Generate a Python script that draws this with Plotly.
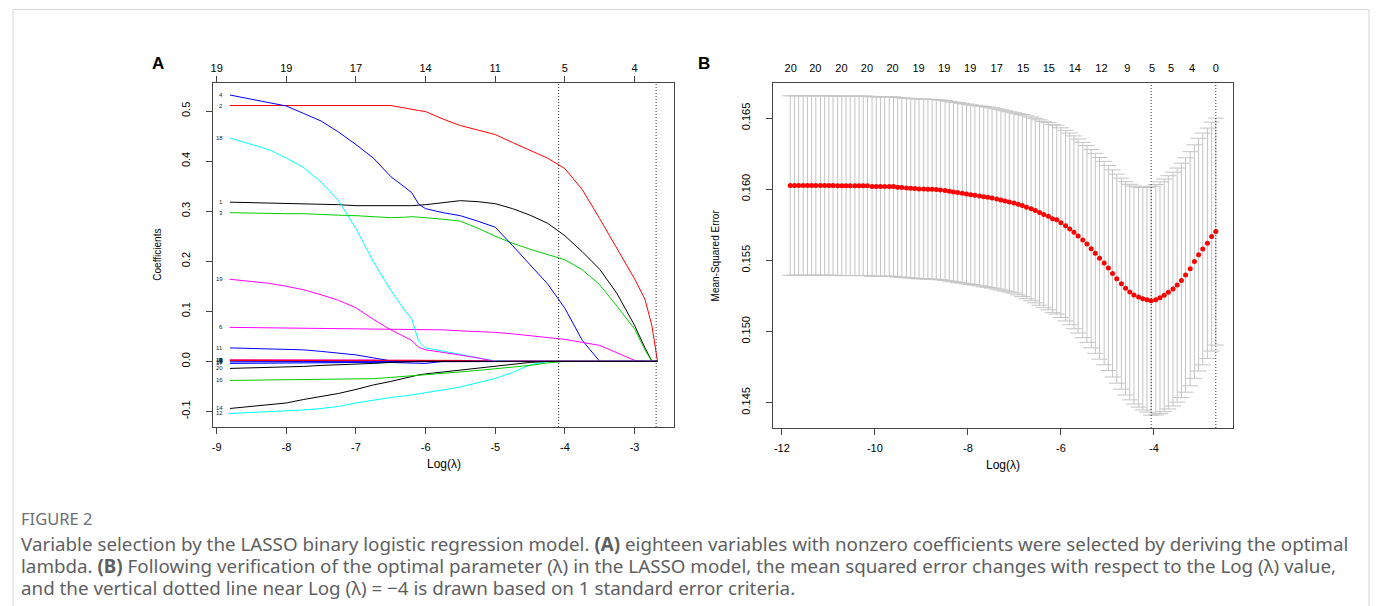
import plotly.graph_objects as go

W, H = 1376, 606

# ---------------- panel A : LASSO coefficient paths ----------------
log_lambda_a = [-8.81, -8.50, -8.25, -8.00, -7.75, -7.50, -7.25, -7.00, -6.75, -6.50,
                -6.30, -6.20, -6.10, -6.00, -5.75, -5.50, -5.25, -5.00, -4.75, -4.50,
                -4.25, -4.00, -3.75, -3.50, -3.25, -3.00, -2.85, -2.75, -2.67]

coef_1 = [0.318, 0.317, 0.317, 0.316, 0.315, 0.314, 0.313, 0.311, 0.311, 0.310,
          0.311, 0.311, 0.312, 0.313, 0.317, 0.321, 0.319, 0.315, 0.305, 0.292,
          0.276, 0.251, 0.219, 0.184, 0.135, 0.072, 0.027, 0.0, 0.0]
coef_2 = [0.511] * 10 + [0.506, 0.503, 0.501, 0.499, 0.484, 0.471, 0.462, 0.453, 0.437, 0.422,
                         0.406, 0.385, 0.343, 0.285, 0.226, 0.165, 0.124, 0.071, 0.0]
coef_3 = [0.297, 0.296, 0.295, 0.295, 0.295, 0.293, 0.292, 0.291, 0.289, 0.287,
          0.288, 0.289, 0.288, 0.287, 0.284, 0.280, 0.266, 0.250, 0.236, 0.224,
          0.213, 0.203, 0.183, 0.153, 0.110, 0.065, 0.023, 0.0, 0.0]
coef_4 = [0.532, 0.524, 0.517, 0.510, 0.495, 0.480, 0.458, 0.433, 0.406, 0.369,
          0.348, 0.337, 0.314, 0.305, 0.297, 0.291, 0.280, 0.268, 0.231, 0.194,
          0.155, 0.106, 0.042, 0.0, 0.0, 0.0, 0.0, 0.0, 0.0]
coef_5 = [0.003] * 14 + [0.002, 0.002, 0.001, 0.0] + [0.0] * 11
coef_6 = [0.068, 0.0675, 0.067, 0.067, 0.067, 0.067, 0.066, 0.066, 0.066, 0.065,
          0.065, 0.065, 0.064, 0.064, 0.063, 0.061, 0.060, 0.058, 0.055, 0.051,
          0.048, 0.044, 0.038, 0.032, 0.017, 0.002, 0.0, 0.0, 0.0]
coef_7 = [0.002] * 13 + [0.0] * 16
coef_8 = [0.0015] * 15 + [0.001, 0.0005, 0.0] + [0.0] * 11
coef_9 = [0.001, 0.001, 0.001, 0.0, 0.0, -0.001, -0.001, -0.001, -0.002, -0.002,
          -0.003, -0.003, -0.004, -0.004, 0.0] + [0.0] * 14
coef_10 = [0.0025] * 9 + [0.0] * 20
coef_11 = [0.027, 0.026, 0.025, 0.024, 0.023, 0.020, 0.017, 0.013, 0.007, 0.001] + [0.0] * 19
coef_12 = [-0.104, -0.102, -0.101, -0.100, -0.097, -0.094, -0.090, -0.083, -0.077, -0.072,
           -0.069, -0.067, -0.065, -0.063, -0.057, -0.051, -0.043, -0.034, -0.022, -0.007] + [0.0] * 9
coef_13 = [0.002] * 15 + [0.001] + [0.0] * 13
coef_14 = [-0.094, -0.090, -0.086, -0.083, -0.076, -0.070, -0.064, -0.056, -0.047, -0.040,
           -0.033, -0.030, -0.027, -0.025, -0.021, -0.017, -0.013, -0.009, -0.005, -0.002] + [0.0] * 9
coef_15 = [-0.001] * 10 + [-0.0005] + [0.0] * 18
coef_16 = [-0.038, -0.0376, -0.0373, -0.0369, -0.0366, -0.0362, -0.0358, -0.0355, -0.0345, -0.032,
           -0.030, -0.029, -0.028, -0.027, -0.024, -0.021, -0.018, -0.015, -0.012, -0.008,
           -0.003] + [0.0] * 8
coef_17 = [-0.004, -0.004, -0.004, -0.0035, -0.003, -0.003, -0.0025, -0.002, -0.001, 0.0] + [0.0] * 19
coef_18 = [0.446, 0.433, 0.423, 0.406, 0.387, 0.358, 0.321, 0.265, 0.199, 0.142,
           0.102, 0.085, 0.040, 0.027, 0.021, 0.014, 0.007, 0.001] + [0.0] * 11
coef_19 = [0.164, 0.160, 0.156, 0.150, 0.143, 0.133, 0.122, 0.107, 0.084, 0.063,
           0.050, 0.042, 0.028, 0.023, 0.018, 0.013, 0.007, 0.0] + [0.0] * 11
coef_20 = [-0.014, -0.013, -0.012, -0.011, -0.010, -0.008, -0.007, -0.006, -0.004, -0.002,
           -0.0005] + [0.0] * 18

coef_paths = [coef_1, coef_2, coef_3, coef_4, coef_5, coef_6, coef_7, coef_8, coef_9, coef_10,
              coef_11, coef_12, coef_13, coef_14, coef_15, coef_16, coef_17, coef_18, coef_19, coef_20]
var_colors = ["#000000", "#FF0000", "#00CD00", "#0000FF", "#FF0000", "#FF00FF", "#FF00FF",
              "#FF0000", "#0000FF", "#FF00FF", "#0000FF", "#00FFFF", "#FF0000", "#000000",
              "#0000FF", "#00CD00", "#0000FF", "#00FFFF", "#FF00FF", "#000000"]

a_xticks = [-9, -8, -7, -6, -5, -4, -3]
a_xticktext = ["-9", "-8", "-7", "-6", "-5", "-4", "-3"]
a_df = ["19", "19", "17", "14", "11", "5", "4"]
a_yticks = [-0.1, 0.0, 0.1, 0.2, 0.3, 0.4, 0.5]
a_yticktext = ["-0.1", "0.0", "0.1", "0.2", "0.3", "0.4", "0.5"]
a_vlines = [-4.09, -2.69]

# ---------------- panel B : cross-validated MSE ----------------
log_lambda_b = [-11.82, -11.73, -11.64, -11.54, -11.45, -11.36, -11.27, -11.17, -11.08, -10.99,
                -10.90, -10.80, -10.71, -10.62, -10.53, -10.43, -10.34, -10.25, -10.16, -10.06,
                -9.97, -9.88, -9.79, -9.69, -9.60, -9.51, -9.42, -9.32, -9.23, -9.14,
                -9.05, -8.95, -8.86, -8.77, -8.68, -8.59, -8.49, -8.40, -8.31, -8.22,
                -8.12, -8.03, -7.94, -7.85, -7.75, -7.66, -7.57, -7.48, -7.38, -7.29,
                -7.20, -7.11, -7.01, -6.92, -6.83, -6.74, -6.64, -6.55, -6.46, -6.37,
                -6.27, -6.18, -6.09, -6.00, -5.90, -5.81, -5.72, -5.63, -5.53, -5.44,
                -5.35, -5.26, -5.17, -5.07, -4.98, -4.89, -4.80, -4.70, -4.61, -4.52,
                -4.43, -4.33, -4.24, -4.15, -4.06, -3.96, -3.87, -3.78, -3.69, -3.59,
                -3.50, -3.41, -3.32, -3.22, -3.13, -3.04, -2.95, -2.85, -2.76, -2.67]
mse = [0.16026, 0.16026, 0.16026, 0.16026, 0.16026, 0.16026, 0.16026, 0.16026, 0.16026, 0.16026,
       0.16026, 0.16024, 0.16024, 0.16024, 0.16024, 0.16024, 0.16024, 0.16024, 0.16024, 0.16019,
       0.16019, 0.16019, 0.16019, 0.16019, 0.16019, 0.16014, 0.16012, 0.16009, 0.16007, 0.16005,
       0.16002, 0.16002, 0.16000, 0.16000, 0.15998, 0.15995, 0.15991, 0.15986, 0.15981, 0.15977,
       0.15972, 0.15967, 0.15962, 0.15958, 0.15953, 0.15948, 0.15944, 0.15939, 0.15932, 0.15925,
       0.15918, 0.15911, 0.15904, 0.15894, 0.15885, 0.15873, 0.15862, 0.15850, 0.15836, 0.15822,
       0.15810, 0.15793, 0.15786, 0.15765, 0.15744, 0.15721, 0.15697, 0.15671, 0.15643, 0.15615,
       0.15582, 0.15549, 0.15514, 0.15481, 0.15446, 0.15408, 0.15371, 0.15336, 0.15303, 0.15277,
       0.15256, 0.15242, 0.15230, 0.15223, 0.15216, 0.15223, 0.15237, 0.15254, 0.15275, 0.15298,
       0.15326, 0.15359, 0.15397, 0.15441, 0.15491, 0.15540, 0.15580, 0.15620, 0.15667, 0.15702]
mse_se = [0.00631] * 30 + [0.00632] * 15 + [0.00634] * 8 + [
    0.00637, 0.00640, 0.00643, 0.00646, 0.00649, 0.00652, 0.00655, 0.00658, 0.00661, 0.00664,
    0.00667, 0.00670, 0.00674, 0.00678, 0.00682, 0.00687, 0.00692, 0.00697, 0.00703, 0.00709,
    0.00715, 0.00721, 0.00728, 0.00735, 0.00742, 0.00750, 0.00758, 0.00766, 0.00774, 0.00782,
    0.00790, 0.00805, 0.00810, 0.00815, 0.00818, 0.00820, 0.00822, 0.00823, 0.00824, 0.00824,
    0.00823, 0.00821, 0.00818, 0.00815, 0.00810, 0.00805, 0.00798]

b_xticks = [-12, -10, -8, -6, -4]
b_xticktext = ["-12", "-10", "-8", "-6", "-4"]
b_yticks = [0.145, 0.150, 0.155, 0.160, 0.165]
b_yticktext = ["0.145", "0.150", "0.155", "0.160", "0.165"]
b_nz_pos = [-11.81, -11.28, -10.72, -10.17, -9.62, -9.06, -8.51, -7.95, -7.38, -6.81,
            -6.26, -5.70, -5.13, -4.57, -4.04, -3.63, -3.18, -2.67]
b_nz = ["20", "20", "20", "20", "20", "19", "19", "19", "17", "15",
        "15", "14", "12", "9", "5", "5", "4", "0"]
b_vlines = [-4.06, -2.67]

FONT = "Liberation Sans"
AXC = "#444444"


def px_x(p):
    return p / W


def px_y(p):
    return 1 - p / H


fig = go.Figure()

for k, (path, col) in enumerate(zip(coef_paths, var_colors)):
    fig.add_trace(go.Scatter(x=log_lambda_a, y=path, mode="lines",
                             line=dict(color=col, width=1), showlegend=False,
                             hoverinfo="skip", xaxis="x", yaxis="y"))

# empty traces so the top axes get their subplots
fig.add_trace(go.Scatter(x=[], y=[], xaxis="x2", yaxis="y", showlegend=False))
fig.add_trace(go.Scatter(x=[], y=[], xaxis="x4", yaxis="y3", showlegend=False))

fig.add_trace(go.Scatter(
    x=log_lambda_b, y=mse, mode="markers",
    marker=dict(color="#FF0000", size=5),
    error_y=dict(type="data", array=mse_se, visible=True, color="#C4C4C4",
                 thickness=1, width=8),
    showlegend=False, hoverinfo="skip", xaxis="x3", yaxis="y3"))

DOT = dict(color="#333333", width=1, dash="1px,2px")
shapes = []
for v in a_vlines:
    shapes.append(dict(type="line", xref="x", yref="y domain", x0=v, x1=v, y0=0, y1=1, line=DOT))
for v in b_vlines:
    shapes.append(dict(type="line", xref="x3", yref="y3 domain", x0=v, x1=v, y0=0, y1=1, line=DOT))
# light frame around the figure
shapes.append(dict(type="rect", xref="paper", yref="paper", x0=px_x(10), x1=px_x(1369),
                   y0=-0.05, y1=px_y(9.5), line=dict(color="#D6D6D6", width=1)))

annotations = []
# variable labels at the left end of each path
for k, path in enumerate(coef_paths):
    annotations.append(dict(x=log_lambda_a[0], y=path[0], xref="x", yref="y", text=str(k + 1),
                            showarrow=False, xanchor="right", yanchor="middle", xshift=-5,
                            font=dict(family=FONT, size=6, color="#222222")))

annotations += [
    dict(x=px_x(147), y=px_y(52), xref="paper", yref="paper", text="<b>A</b>", showarrow=False,
         font=dict(family=FONT, size=17, color="#000000")),
    dict(x=px_x(703), y=px_y(52), xref="paper", yref="paper", text="<b>B</b>", showarrow=False,
         font=dict(family=FONT, size=17, color="#000000")),
    dict(x=px_x(441.7), y=px_y(464), xref="paper", yref="paper", text="Log(λ)", showarrow=False,
         xanchor="center", yanchor="middle", font=dict(family=FONT, size=12, color="#000000")),
    dict(x=px_x(1002), y=px_y(465), xref="paper", yref="paper", text="Log(λ)", showarrow=False,
         xanchor="center", yanchor="middle", font=dict(family=FONT, size=12, color="#000000")),
    dict(x=px_x(155), y=px_y(255), xref="paper", yref="paper", text="Coefficients", showarrow=False,
         textangle=-90, xanchor="center", yanchor="middle",
         font=dict(family=FONT, size=10, color="#000000")),
    dict(x=px_x(715), y=px_y(255), xref="paper", yref="paper", text="Mean-Squared Error",
         showarrow=False, textangle=-90, xanchor="center", yanchor="middle",
         font=dict(family=FONT, size=10, color="#000000")),
]

CAP = "Noto Sans"
caption_lines = [
    ("FIGURE 2", 518, 16.5, "#6D6E71"),
    ("Variable selection by the LASSO binary logistic regression model. <b>(A)</b> eighteen variables "
     "with nonzero coefficients were selected by deriving the optimal", 544, 18.8, "#5E5F62"),
    ("lambda. <b>(B)</b> Following verification of the optimal parameter (λ) in the LASSO model, the "
     "mean squared error changes with respect to the Log (λ) value,", 566, 18.8, "#5E5F62"),
    ("and the vertical dotted line near Log (λ) = −4 is drawn based on 1 standard error criteria.",
     588, 18.8, "#5E5F62"),
]
for txt, yy, sz, col in caption_lines:
    annotations.append(dict(x=px_x(16), y=px_y(yy), xref="paper", yref="paper", text=txt,
                            showarrow=False, xanchor="left", yanchor="middle",
                            font=dict(family=CAP, size=sz, color=col)))

tickfont = dict(family=FONT, size=11, color="#000000")
common = dict(showline=True, linecolor=AXC, linewidth=1, mirror=True, ticks="outside",
              tickcolor=AXC, ticklen=6, showgrid=False, zeroline=False, tickfont=tickfont)

fig.update_layout(
    width=W, height=H, margin=dict(l=0, r=0, t=0, b=0),
    paper_bgcolor="white", plot_bgcolor="white",
    shapes=shapes, annotations=annotations,
    xaxis=dict(domain=[px_x(210.7), px_x(672.7)], range=[-9.05, -2.43], anchor="y",
               tickvals=a_xticks, ticktext=a_xticktext, ticklabelstandoff=4, **common),
    yaxis=dict(domain=[px_y(427), px_y(83)], range=[-0.131, 0.556], anchor="x",
               tickvals=a_yticks, ticktext=a_yticktext, tickangle=-90, ticklabelstandoff=12,
               **common),
    xaxis2=dict(overlaying="x", side="top", anchor="y", range=[-9.05, -2.43],
                tickvals=a_xticks, ticktext=a_df, ticks="outside", ticklen=6, tickcolor=AXC,
                showline=False, showgrid=False, zeroline=False, tickfont=tickfont,
                ticklabelstandoff=0),
    xaxis3=dict(domain=[px_x(771.7), px_x(1232.7)], range=[-12.19, -2.30], anchor="y3",
                tickvals=b_xticks, ticktext=b_xticktext, ticklabelstandoff=4, **common),
    yaxis3=dict(domain=[px_y(428), px_y(83)], range=[0.14321, 0.16747], anchor="x3",
                tickvals=b_yticks, ticktext=b_yticktext, tickangle=-90, ticklabelstandoff=12,
                **common),
    xaxis4=dict(overlaying="x3", side="top", anchor="y3", range=[-12.19, -2.30],
                tickvals=b_nz_pos, ticktext=b_nz, ticks="outside", ticklen=6,
                tickcolor="rgba(0,0,0,0)", showline=False, showgrid=False, zeroline=False,
                tickfont=tickfont, ticklabelstandoff=0),
)

fig.write_html("out.html", config={"displayModeBar": False},
               post_script="document.body.style.margin='0px';")
